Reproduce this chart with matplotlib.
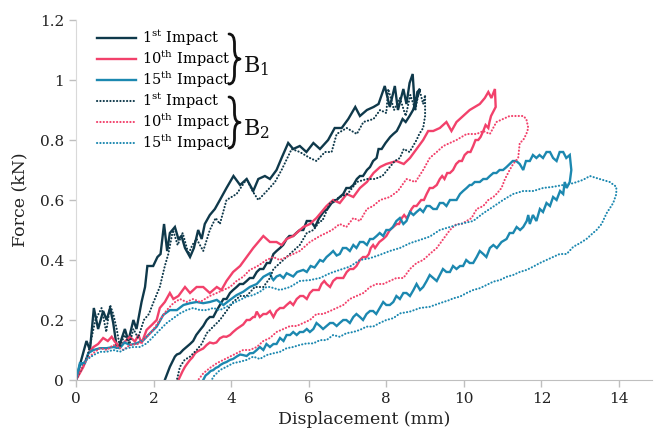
import matplotlib
matplotlib.use("Agg")
import matplotlib.pyplot as plt
from matplotlib.lines import Line2D
from matplotlib.path import Path
from matplotlib.patches import PathPatch

plt.rcParams['font.family'] = 'DejaVu Serif'
plt.rcParams['mathtext.fontset'] = 'dejavuserif'

# ---- data (displacement in mm, force in kN) ----
# B1, 1st impact
b1_1st_load_x = [0, 0.1, 0.27, 0.36, 0.46, 0.57, 0.7, 0.79, 0.88, 0.96, 1.05, 1.13, 1.26, 1.35, 1.48, 1.56,
                 1.69, 1.78, 1.84, 1.99, 2.1, 2.18, 2.27, 2.35, 2.42, 2.55, 2.64, 2.72, 2.81, 2.94, 3.04, 3.15,
                 3.24, 3.32, 3.45, 3.58, 3.71, 3.88, 4.06, 4.23, 4.4, 4.57, 4.7, 4.87, 5.0, 5.17, 5.3, 5.47,
                 5.6, 5.77, 5.94, 6.12, 6.29, 6.5, 6.67, 6.85, 7.02, 7.2, 7.32, 7.5, 7.67, 7.8, 7.96, 8.09,
                 8.22, 8.3, 8.44, 8.52, 8.6, 8.68, 8.74, 8.8, 8.87]
b1_1st_load_y = [0, 0.05, 0.13, 0.1, 0.24, 0.17, 0.23, 0.2, 0.24, 0.19, 0.11, 0.12, 0.17, 0.13, 0.2, 0.17,
                 0.26, 0.31, 0.38, 0.38, 0.41, 0.42, 0.52, 0.43, 0.49, 0.51, 0.47, 0.48, 0.44, 0.41, 0.44, 0.5,
                 0.47, 0.52, 0.55, 0.57, 0.6, 0.64, 0.68, 0.65, 0.67, 0.63, 0.67, 0.68, 0.67, 0.7, 0.74, 0.79,
                 0.77, 0.78, 0.76, 0.79, 0.77, 0.8, 0.84, 0.84, 0.87, 0.91, 0.88, 0.9, 0.91, 0.92, 0.98, 0.91,
                 0.98, 0.9, 0.97, 0.92, 0.99, 1.02, 0.9, 0.96, 0.97]
b1_1st_unload_x = [8.69, 8.6, 8.5, 8.42, 8.35, 8.27, 8.18, 8.1, 7.98, 7.88, 7.8, 7.75, 7.66, 7.58, 7.5, 7.4,
                   7.32, 7.24, 7.15, 7.06, 6.97, 6.89, 6.8, 6.72, 6.59, 6.48, 6.38, 6.27, 6.16, 6.05, 5.95,
                   5.86, 5.77, 5.68, 5.6, 5.5, 5.43, 5.34, 5.26, 5.17, 5.09, 5.0, 4.92, 4.83, 4.74, 4.66,
                   4.57, 4.48, 4.4, 4.31, 4.22, 4.14, 4.05, 3.97, 3.88, 3.8, 3.71, 3.62, 3.54, 3.45, 3.37,
                   3.28, 3.2, 3.1, 3.02, 2.94, 2.85, 2.76, 2.68, 2.6, 2.55, 2.48, 2.42, 2.35, 2.29]
b1_1st_unload_y = [0.9, 0.88, 0.86, 0.87, 0.85, 0.83, 0.82, 0.81, 0.79, 0.77, 0.77, 0.74, 0.73, 0.71, 0.7,
                   0.68, 0.68, 0.67, 0.65, 0.64, 0.64, 0.62, 0.61, 0.6, 0.59, 0.57, 0.56, 0.54, 0.51, 0.53,
                   0.53, 0.5, 0.5, 0.49, 0.48, 0.48, 0.47, 0.45, 0.44, 0.43, 0.42, 0.39, 0.39, 0.37, 0.37,
                   0.36, 0.34, 0.34, 0.33, 0.32, 0.32, 0.31, 0.3, 0.29, 0.27, 0.27, 0.25, 0.23, 0.21, 0.21,
                   0.2, 0.18, 0.167, 0.15, 0.13, 0.12, 0.11, 0.1, 0.089, 0.085, 0.078, 0.06, 0.044, 0.02, 0]

# B2, 1st impact
b2_1st_load_x = [0, 0.15, 0.3, 0.5, 0.66, 0.78, 0.88, 0.96, 1.05, 1.13, 1.25, 1.38, 1.48, 1.6, 1.75, 1.88,
                 2.0, 2.16, 2.29, 2.38, 2.5, 2.62, 2.75, 2.9, 3.0, 3.11, 3.28, 3.45, 3.6, 3.71, 3.88, 4.14,
                 4.4, 4.55, 4.7, 4.92, 5.13, 5.3, 5.56, 5.77, 6.03, 6.2, 6.42, 6.59, 6.72, 6.98, 7.24, 7.41,
                 7.67, 7.84, 8.0, 8.05, 8.2, 8.35, 8.5, 8.62, 8.75, 8.85, 8.95, 9.0]
b2_1st_load_y = [0, 0.04, 0.08, 0.2, 0.24, 0.16, 0.25, 0.22, 0.17, 0.11, 0.15, 0.12, 0.17, 0.14, 0.2, 0.22,
                 0.26, 0.31, 0.38, 0.42, 0.5, 0.45, 0.49, 0.42, 0.45, 0.47, 0.43, 0.5, 0.54, 0.52, 0.6, 0.62,
                 0.67, 0.63, 0.6, 0.63, 0.66, 0.7, 0.77, 0.76, 0.74, 0.73, 0.76, 0.76, 0.82, 0.84, 0.82, 0.86,
                 0.87, 0.9, 0.89, 0.97, 0.9, 0.94, 0.88, 0.95, 0.9, 0.97, 0.92, 0.95]
b2_1st_unload_x = [9.0, 8.95, 8.85, 8.78, 8.6, 8.45, 8.35, 8.22, 8.09, 7.9, 7.7, 7.5, 7.24, 7.0, 6.8, 6.55,
                   6.35, 6.29, 6.12, 5.95, 5.77, 5.6, 5.43, 5.26, 5.09, 5.0, 4.83, 4.61, 4.4, 4.23, 4.05,
                   3.88, 3.71, 3.54, 3.37, 3.24, 3.11, 2.94, 2.8, 2.68, 2.6]
b2_1st_unload_y = [0.88, 0.84, 0.82, 0.8, 0.76, 0.77, 0.74, 0.73, 0.71, 0.68, 0.67, 0.67, 0.66, 0.62, 0.61,
                   0.59, 0.53, 0.53, 0.5, 0.49, 0.45, 0.43, 0.41, 0.39, 0.37, 0.34, 0.31, 0.31, 0.28, 0.28,
                   0.26, 0.23, 0.2, 0.178, 0.156, 0.12, 0.1, 0.078, 0.067, 0.044, 0]

# B1, 10th impact
b1_10th_load_x = [0, 0.19, 0.32, 0.45, 0.57, 0.7, 0.82, 0.92, 1.0, 1.13, 1.26, 1.39, 1.52, 1.61, 1.69, 1.82,
                  1.95, 2.08, 2.16, 2.29, 2.42, 2.51, 2.64, 2.81, 2.94, 3.11, 3.28, 3.45, 3.63, 3.75, 3.88,
                  4.05, 4.23, 4.4, 4.57, 4.7, 4.83, 5.0, 5.17, 5.3, 5.43, 5.6, 5.86, 6.03, 6.2, 6.46, 6.63,
                  6.8, 6.98, 7.15, 7.32, 7.5, 7.67, 7.84, 8.0, 8.26, 8.45, 8.61, 8.78, 8.95, 9.08, 9.21, 9.38,
                  9.55, 9.68, 9.81, 9.98, 10.15, 10.28, 10.41, 10.54, 10.63, 10.71, 10.8, 10.82]
b1_10th_load_y = [0, 0.044, 0.089, 0.11, 0.12, 0.14, 0.13, 0.144, 0.128, 0.11, 0.128, 0.144, 0.128, 0.15,
                  0.122, 0.167, 0.183, 0.2, 0.24, 0.26, 0.29, 0.27, 0.28, 0.31, 0.29, 0.31, 0.31, 0.29, 0.31,
                  0.3, 0.33, 0.36, 0.38, 0.41, 0.44, 0.46, 0.48, 0.46, 0.46, 0.45, 0.47, 0.48, 0.51, 0.52,
                  0.54, 0.58, 0.6, 0.59, 0.62, 0.61, 0.64, 0.66, 0.69, 0.71, 0.72, 0.73, 0.72, 0.74, 0.77,
                  0.8, 0.83, 0.83, 0.84, 0.86, 0.83, 0.86, 0.88, 0.9, 0.91, 0.92, 0.94, 0.96, 0.94, 0.97, 0.91]
b1_10th_unload_x = [10.7, 10.66, 10.63, 10.56, 10.5, 10.43, 10.37, 10.3, 10.24, 10.17, 10.1, 10.02, 9.95,
                    9.88, 9.8, 9.72, 9.64, 9.57, 9.5, 9.44, 9.38, 9.3, 9.2, 9.12, 9.04, 8.97, 8.9, 8.84, 8.78,
                    8.71, 8.65, 8.58, 8.52, 8.46, 8.4, 8.33, 8.27, 8.18, 8.09, 8.0, 7.92, 7.82, 7.71, 7.66,
                    7.6, 7.55, 7.49, 7.4, 7.32, 7.23, 7.15, 7.06, 6.98, 6.89, 6.8, 6.72, 6.63, 6.55, 6.46,
                    6.4, 6.33, 6.26, 6.2, 6.11, 6.03, 5.95, 5.86, 5.78, 5.69, 5.6, 5.52, 5.43, 5.35, 5.26,
                    5.17, 5.09, 5.0, 4.91, 4.83, 4.74, 4.66, 4.61, 4.57, 4.48, 4.4, 4.31, 4.23, 4.14, 4.05,
                    3.97, 3.88, 3.8, 3.71, 3.62, 3.54, 3.45, 3.37, 3.28, 3.2, 3.13, 3.07, 3.0, 2.94, 2.87,
                    2.81, 2.75, 2.68, 2.64]
b1_10th_unload_y = [0.88, 0.86, 0.84, 0.85, 0.83, 0.81, 0.8, 0.8, 0.78, 0.76, 0.76, 0.75, 0.73, 0.73, 0.72,
                    0.7, 0.69, 0.69, 0.67, 0.68, 0.67, 0.65, 0.64, 0.64, 0.62, 0.6, 0.6, 0.59, 0.58, 0.58,
                    0.57, 0.55, 0.54, 0.55, 0.54, 0.52, 0.52, 0.51, 0.5, 0.48, 0.47, 0.46, 0.44, 0.45, 0.44,
                    0.42, 0.41, 0.41, 0.4, 0.38, 0.37, 0.37, 0.36, 0.34, 0.34, 0.34, 0.33, 0.31, 0.32, 0.33,
                    0.32, 0.3, 0.3, 0.3, 0.29, 0.27, 0.28, 0.28, 0.27, 0.25, 0.26, 0.25, 0.24, 0.24, 0.23,
                    0.21, 0.23, 0.22, 0.22, 0.21, 0.228, 0.21, 0.21, 0.2, 0.2, 0.185, 0.178, 0.17, 0.16, 0.15,
                    0.144, 0.145, 0.139, 0.125, 0.122, 0.125, 0.117, 0.105, 0.1, 0.095, 0.089, 0.075, 0.067,
                    0.055, 0.044, 0.03, 0.011, 0]

# B2, 10th impact
b2_10th_load_x = [0, 0.1, 0.27, 0.45, 0.62, 0.8, 0.96, 1.1, 1.22, 1.39, 1.6, 1.82, 1.99, 2.16, 2.34, 2.51,
                  2.68, 2.85, 3.02, 3.2, 3.45, 3.63, 3.8, 3.97, 4.14, 4.31, 4.48, 4.66, 4.8, 4.91, 5.09, 5.25,
                  5.43, 5.6, 5.77, 6.03, 6.29, 6.45, 6.6, 6.8, 6.97, 7.15, 7.32, 7.5, 7.66, 7.84, 8.09, 8.3,
                  8.52, 8.75, 8.95, 9.12, 9.3, 9.47, 9.64, 9.81, 10.07, 10.33, 10.5, 10.67, 10.84, 11.01,
                  11.18, 11.35, 11.53, 11.61, 11.66, 11.61]
b2_10th_load_y = [0, 0.03, 0.067, 0.09, 0.106, 0.1, 0.117, 0.11, 0.1, 0.117, 0.12, 0.144, 0.167, 0.2, 0.233,
                  0.256, 0.27, 0.26, 0.27, 0.26, 0.28, 0.29, 0.3, 0.31, 0.33, 0.344, 0.367, 0.378, 0.39, 0.4,
                  0.41, 0.4, 0.41, 0.42, 0.43, 0.46, 0.48, 0.49, 0.5, 0.52, 0.51, 0.54, 0.53, 0.57, 0.58,
                  0.6, 0.61, 0.63, 0.67, 0.66, 0.7, 0.74, 0.76, 0.78, 0.79, 0.8, 0.82, 0.82, 0.83, 0.82,
                  0.86, 0.87, 0.88, 0.88, 0.88, 0.87, 0.84, 0.82]
b2_10th_unload_x = [11.53, 11.44, 11.4, 11.27, 11.18, 11.06, 10.97, 10.84, 10.76, 10.63, 10.5, 10.33, 10.2,
                    10.07, 9.94, 9.81, 9.64, 9.47, 9.3, 9.12, 8.95, 8.78, 8.61, 8.44, 8.26, 8.09, 7.92, 7.75,
                    7.58, 7.41, 7.23, 7.06, 6.89, 6.72, 6.55, 6.37, 6.2, 6.03, 5.86, 5.69, 5.52, 5.35, 5.17,
                    5.0, 4.83, 4.66, 4.48, 4.31, 4.14, 3.97, 3.8, 3.63, 3.45, 3.28, 3.15]
b2_10th_unload_y = [0.8, 0.79, 0.74, 0.72, 0.7, 0.67, 0.64, 0.62, 0.61, 0.6, 0.58, 0.57, 0.54, 0.53, 0.52,
                    0.52, 0.5, 0.47, 0.44, 0.42, 0.4, 0.39, 0.37, 0.34, 0.34, 0.33, 0.32, 0.32, 0.31, 0.29,
                    0.28, 0.27, 0.25, 0.24, 0.23, 0.22, 0.22, 0.2, 0.19, 0.18, 0.18, 0.17, 0.16, 0.14, 0.13,
                    0.11, 0.1, 0.1, 0.089, 0.078, 0.067, 0.056, 0.04, 0.022, 0]

# B1, 15th impact
b1_15th_load_x = [0, 0.1, 0.23, 0.32, 0.45, 0.62, 0.79, 0.96, 1.13, 1.25, 1.39, 1.56, 1.74, 1.91, 2.08, 2.25,
                  2.42, 2.6, 2.77, 2.94, 3.11, 3.28, 3.45, 3.63, 3.8, 3.97, 4.14, 4.31, 4.48, 4.66, 4.83, 5.0,
                  5.05, 5.09, 5.17, 5.26, 5.35, 5.43, 5.52, 5.6, 5.7, 5.86, 5.95, 6.05, 6.15, 6.29, 6.37,
                  6.46, 6.55, 6.63, 6.72, 6.8, 6.88, 6.97, 7.06, 7.15, 7.23, 7.32, 7.41, 7.5, 7.58, 7.66,
                  7.75, 7.83, 7.92, 8.0, 8.09, 8.17, 8.26, 8.35, 8.44, 8.52, 8.61, 8.7, 8.78, 8.87, 8.95,
                  9.04, 9.12, 9.21, 9.3, 9.38, 9.47, 9.55, 9.64, 9.72, 9.81, 9.9, 9.98, 10.07, 10.15, 10.2,
                  10.28, 10.33, 10.41, 10.5, 10.59, 10.67, 10.76, 10.84, 10.92, 11.01, 11.1, 11.18, 11.26,
                  11.35, 11.44, 11.53, 11.6, 11.7, 11.78, 11.87, 11.95, 12.04, 12.13, 12.22, 12.3, 12.39,
                  12.47, 12.56, 12.64, 12.73, 12.77, 12.73]
b1_15th_load_y = [0, 0.056, 0.056, 0.09, 0.1, 0.106, 0.106, 0.11, 0.106, 0.125, 0.117, 0.122, 0.133, 0.156,
                  0.178, 0.217, 0.233, 0.233, 0.25, 0.256, 0.26, 0.256, 0.26, 0.267, 0.25, 0.267, 0.283,
                  0.294, 0.31, 0.32, 0.344, 0.356, 0.34, 0.333, 0.345, 0.35, 0.34, 0.356, 0.35, 0.345, 0.36,
                  0.367, 0.36, 0.38, 0.375, 0.4, 0.395, 0.41, 0.42, 0.43, 0.415, 0.42, 0.44, 0.44, 0.43,
                  0.45, 0.44, 0.46, 0.46, 0.45, 0.47, 0.47, 0.48, 0.49, 0.48, 0.5, 0.5, 0.51, 0.53, 0.54,
                  0.52, 0.53, 0.56, 0.55, 0.56, 0.57, 0.56, 0.58, 0.58, 0.57, 0.57, 0.59, 0.59, 0.58, 0.6,
                  0.6, 0.6, 0.62, 0.63, 0.64, 0.65, 0.65, 0.66, 0.66, 0.66, 0.67, 0.67, 0.68, 0.69, 0.69,
                  0.7, 0.7, 0.71, 0.72, 0.73, 0.73, 0.72, 0.7, 0.73, 0.73, 0.75, 0.74, 0.75, 0.74, 0.76,
                  0.76, 0.74, 0.73, 0.76, 0.76, 0.74, 0.75, 0.7, 0.66]
b1_15th_unload_x = [12.65, 12.6, 12.56, 12.48, 12.39, 12.3, 12.22, 12.13, 12.04, 11.96, 11.87, 11.78, 11.7,
                    11.66, 11.62, 11.53, 11.45, 11.36, 11.27, 11.18, 11.1, 10.97, 10.85, 10.76, 10.67, 10.58,
                    10.5, 10.41, 10.33, 10.24, 10.15, 10.06, 9.98, 9.9, 9.81, 9.72, 9.64, 9.55, 9.46, 9.38,
                    9.3, 9.21, 9.12, 9.04, 8.95, 8.87, 8.78, 8.7, 8.61, 8.52, 8.44, 8.35, 8.26, 8.18, 8.09,
                    8.0, 7.92, 7.83, 7.74, 7.66, 7.58, 7.49, 7.4, 7.32, 7.23, 7.15, 7.06, 6.97, 6.89, 6.8,
                    6.72, 6.63, 6.55, 6.46, 6.37, 6.29, 6.2, 6.12, 6.03, 5.95, 5.86, 5.77, 5.69, 5.6, 5.52,
                    5.43, 5.35, 5.26, 5.17, 5.09, 5.0, 4.91, 4.83, 4.74, 4.66, 4.57, 4.48, 4.4, 4.31, 4.23,
                    4.14, 4.05, 3.97, 3.88, 3.8, 3.72, 3.67, 3.6, 3.54, 3.47, 3.41, 3.34, 3.28]
b1_15th_unload_y = [0.64, 0.66, 0.62, 0.63, 0.6, 0.61, 0.58, 0.59, 0.56, 0.57, 0.53, 0.55, 0.52, 0.55, 0.53,
                    0.51, 0.5, 0.51, 0.49, 0.49, 0.47, 0.46, 0.44, 0.45, 0.44, 0.41, 0.42, 0.43, 0.41, 0.39,
                    0.39, 0.4, 0.38, 0.38, 0.37, 0.38, 0.36, 0.36, 0.37, 0.35, 0.33, 0.34, 0.35, 0.33, 0.31,
                    0.3, 0.32, 0.3, 0.28, 0.29, 0.29, 0.27, 0.28, 0.26, 0.25, 0.25, 0.26, 0.24, 0.22, 0.23,
                    0.23, 0.22, 0.2, 0.21, 0.22, 0.21, 0.19, 0.2, 0.2, 0.19, 0.18, 0.19, 0.19, 0.18, 0.17,
                    0.18, 0.19, 0.17, 0.16, 0.17, 0.16, 0.16, 0.15, 0.16, 0.15, 0.15, 0.13, 0.14, 0.12, 0.12,
                    0.11, 0.12, 0.1, 0.11, 0.1, 0.09, 0.089, 0.08, 0.083, 0.085, 0.078, 0.07, 0.067, 0.06,
                    0.056, 0.05, 0.044, 0.04, 0.033, 0.03, 0.022, 0.015, 0]

# B2, 15th impact
b2_15th_load_x = [0, 0.1, 0.27, 0.45, 0.62, 0.79, 0.96, 1.13, 1.31, 1.48, 1.65, 1.82, 1.99, 2.16, 2.34, 2.51,
                  2.68, 2.85, 3.02, 3.2, 3.37, 3.54, 3.71, 3.88, 4.05, 4.23, 4.4, 4.57, 4.74, 4.91, 5.0, 5.26,
                  5.52, 5.77, 6.03, 6.29, 6.55, 6.8, 7.06, 7.32, 7.58, 7.83, 8.09, 8.35, 8.61, 8.87, 9.12,
                  9.38, 9.64, 9.9, 10.24, 10.5, 10.76, 11.01, 11.27, 11.53, 11.79, 12.04, 12.3, 12.56, 12.82,
                  13.07, 13.25, 13.5, 13.76, 13.93, 13.93, 13.85, 13.68, 13.55, 13.42]
b2_15th_load_y = [0, 0.044, 0.067, 0.083, 0.094, 0.094, 0.1, 0.094, 0.106, 0.11, 0.11, 0.122, 0.144, 0.167,
                  0.19, 0.206, 0.222, 0.233, 0.24, 0.233, 0.233, 0.24, 0.233, 0.244, 0.256, 0.267, 0.278,
                  0.283, 0.294, 0.31, 0.31, 0.3, 0.31, 0.33, 0.333, 0.34, 0.356, 0.367, 0.378, 0.4, 0.406,
                  0.417, 0.43, 0.44, 0.456, 0.467, 0.478, 0.5, 0.51, 0.52, 0.53, 0.556, 0.578, 0.6, 0.62,
                  0.63, 0.63, 0.64, 0.644, 0.65, 0.656, 0.667, 0.68, 0.67, 0.66, 0.644, 0.62, 0.59, 0.556,
                  0.52, 0.5]
b2_15th_unload_x = [13.33, 13.16, 12.99, 12.82, 12.65, 12.47, 12.3, 12.13, 11.96, 11.79, 11.62, 11.44, 11.27,
                    11.1, 10.93, 10.76, 10.59, 10.41, 10.24, 10.07, 9.9, 9.72, 9.64, 9.38, 9.12, 8.87, 8.61,
                    8.35, 8.18, 8.0, 7.83, 7.66, 7.49, 7.32, 7.15, 6.97, 6.8, 6.63, 6.46, 6.29, 6.12, 5.95,
                    5.77, 5.6, 5.43, 5.26, 5.09, 4.91, 4.74, 4.57, 4.4, 4.23, 4.05, 3.88, 3.71, 3.54, 3.5]
b2_15th_unload_y = [0.49, 0.47, 0.456, 0.444, 0.42, 0.42, 0.41, 0.4, 0.39, 0.378, 0.367, 0.36, 0.35, 0.344,
                    0.333, 0.328, 0.317, 0.306, 0.3, 0.29, 0.278, 0.272, 0.267, 0.256, 0.244, 0.24, 0.228,
                    0.222, 0.206, 0.2, 0.19, 0.178, 0.178, 0.167, 0.16, 0.156, 0.144, 0.15, 0.133, 0.133,
                    0.122, 0.122, 0.117, 0.11, 0.106, 0.094, 0.089, 0.083, 0.07, 0.078, 0.067, 0.061, 0.056,
                    0.044, 0.033, 0.011, 0]

impact_labels = [r'1$^{\mathrm{st}}$ Impact', r'10$^{\mathrm{th}}$ Impact', r'15$^{\mathrm{th}}$ Impact']
x_ticks = [0, 2, 4, 6, 8, 10, 12, 14]
y_ticks = [0, 0.2, 0.4, 0.6, 0.8, 1, 1.2]
y_tick_labels = ['0', '0.2', '0.4', '0.6', '0.8', '1', '1.2']

DARK = '#0f394b'
PINK = '#f2416b'
BLUE = '#1c88b0'
SOLID = dict(lw=1.7, solid_joinstyle='miter')
DOTTED = dict(lw=1.5, linestyle=(0, (0.1, 1.5)), dash_capstyle='round')

fig = plt.figure(figsize=(6.54, 4.36), dpi=100)
ax = fig.add_axes([76 / 654, 56 / 436, 576 / 654, 360 / 436])

series = [
    (b1_1st_load_x + b1_1st_unload_x, b1_1st_load_y + b1_1st_unload_y, DARK, SOLID),
    (b1_10th_load_x + b1_10th_unload_x, b1_10th_load_y + b1_10th_unload_y, PINK, SOLID),
    (b1_15th_load_x + b1_15th_unload_x, b1_15th_load_y + b1_15th_unload_y, BLUE, SOLID),
    (b2_1st_load_x + b2_1st_unload_x, b2_1st_load_y + b2_1st_unload_y, DARK, DOTTED),
    (b2_10th_load_x + b2_10th_unload_x, b2_10th_load_y + b2_10th_unload_y, PINK, DOTTED),
    (b2_15th_load_x + b2_15th_unload_x, b2_15th_load_y + b2_15th_unload_y, BLUE, DOTTED),
]
handles = []
for xs, ys, col, style in series:
    ax.plot(xs, ys, color=col, **style)
    handles.append(Line2D([], [], color=col, **style))

ax.set_xlim(0, 14.85)
ax.set_ylim(0, 1.2)
ax.set_xticks(x_ticks)
ax.set_yticks(y_ticks)
ax.set_yticklabels(y_tick_labels)
ax.tick_params(labelsize=11, colors='#bfbfbf', labelcolor='#222222', length=5, width=1)
for side in ['top', 'right']:
    ax.spines[side].set_visible(False)
ax.spines['left'].set_color('#d9d9d9')
ax.spines['bottom'].set_color('#bfbfbf')
ax.set_xlabel('Displacement (mm)', fontsize=12.5, color='#222222', labelpad=4)
ax.set_ylabel('Force (kN)', fontsize=12.5, color='#222222', labelpad=8)

ax.legend(handles, impact_labels * 2, loc='upper left', frameon=False,
          bbox_to_anchor=(97 / 654, 1 - 28 / 436), bbox_transform=fig.transFigure,
          fontsize=10.5, handlelength=2.7, handletextpad=0.4, labelspacing=0.05,
          borderpad=0, borderaxespad=0)


def brace(x0, y_top, y_bot, w):
    # right-pointing curly brace, in figure pixels measured from the top-left corner
    H = 436
    ym = (y_top + y_bot) / 2
    xm = x0 + w / 2
    r = w * 0.9
    verts = [(x0, y_top), (xm, y_top), (xm, y_top + r),
             (xm, ym - r), (xm, ym), (x0 + w, ym),
             (xm, ym), (xm, ym + r),
             (xm, y_bot - r), (xm, y_bot), (x0, y_bot)]
    codes = [Path.MOVETO, Path.CURVE3, Path.CURVE3,
             Path.LINETO, Path.CURVE3, Path.CURVE3,
             Path.CURVE3, Path.CURVE3,
             Path.LINETO, Path.CURVE3, Path.CURVE3]
    verts = [(vx, H - vy) for vx, vy in verts]
    fig.add_artist(PathPatch(Path(verts, codes), transform=None, fill=False,
                             lw=2.0, edgecolor='#111111', capstyle='round', joinstyle='round'))


# braces grouping the two beams
brace(229, 34, 84, 11)
brace(229, 97, 148, 11)
fig.text(243 / 654, 1 - 66 / 436, r'B$_1$', fontsize=16, va='center', ha='left', color='#111111')
fig.text(243 / 654, 1 - 129 / 436, r'B$_2$', fontsize=16, va='center', ha='left', color='#111111')

fig.savefig('out.png', dpi=100)
